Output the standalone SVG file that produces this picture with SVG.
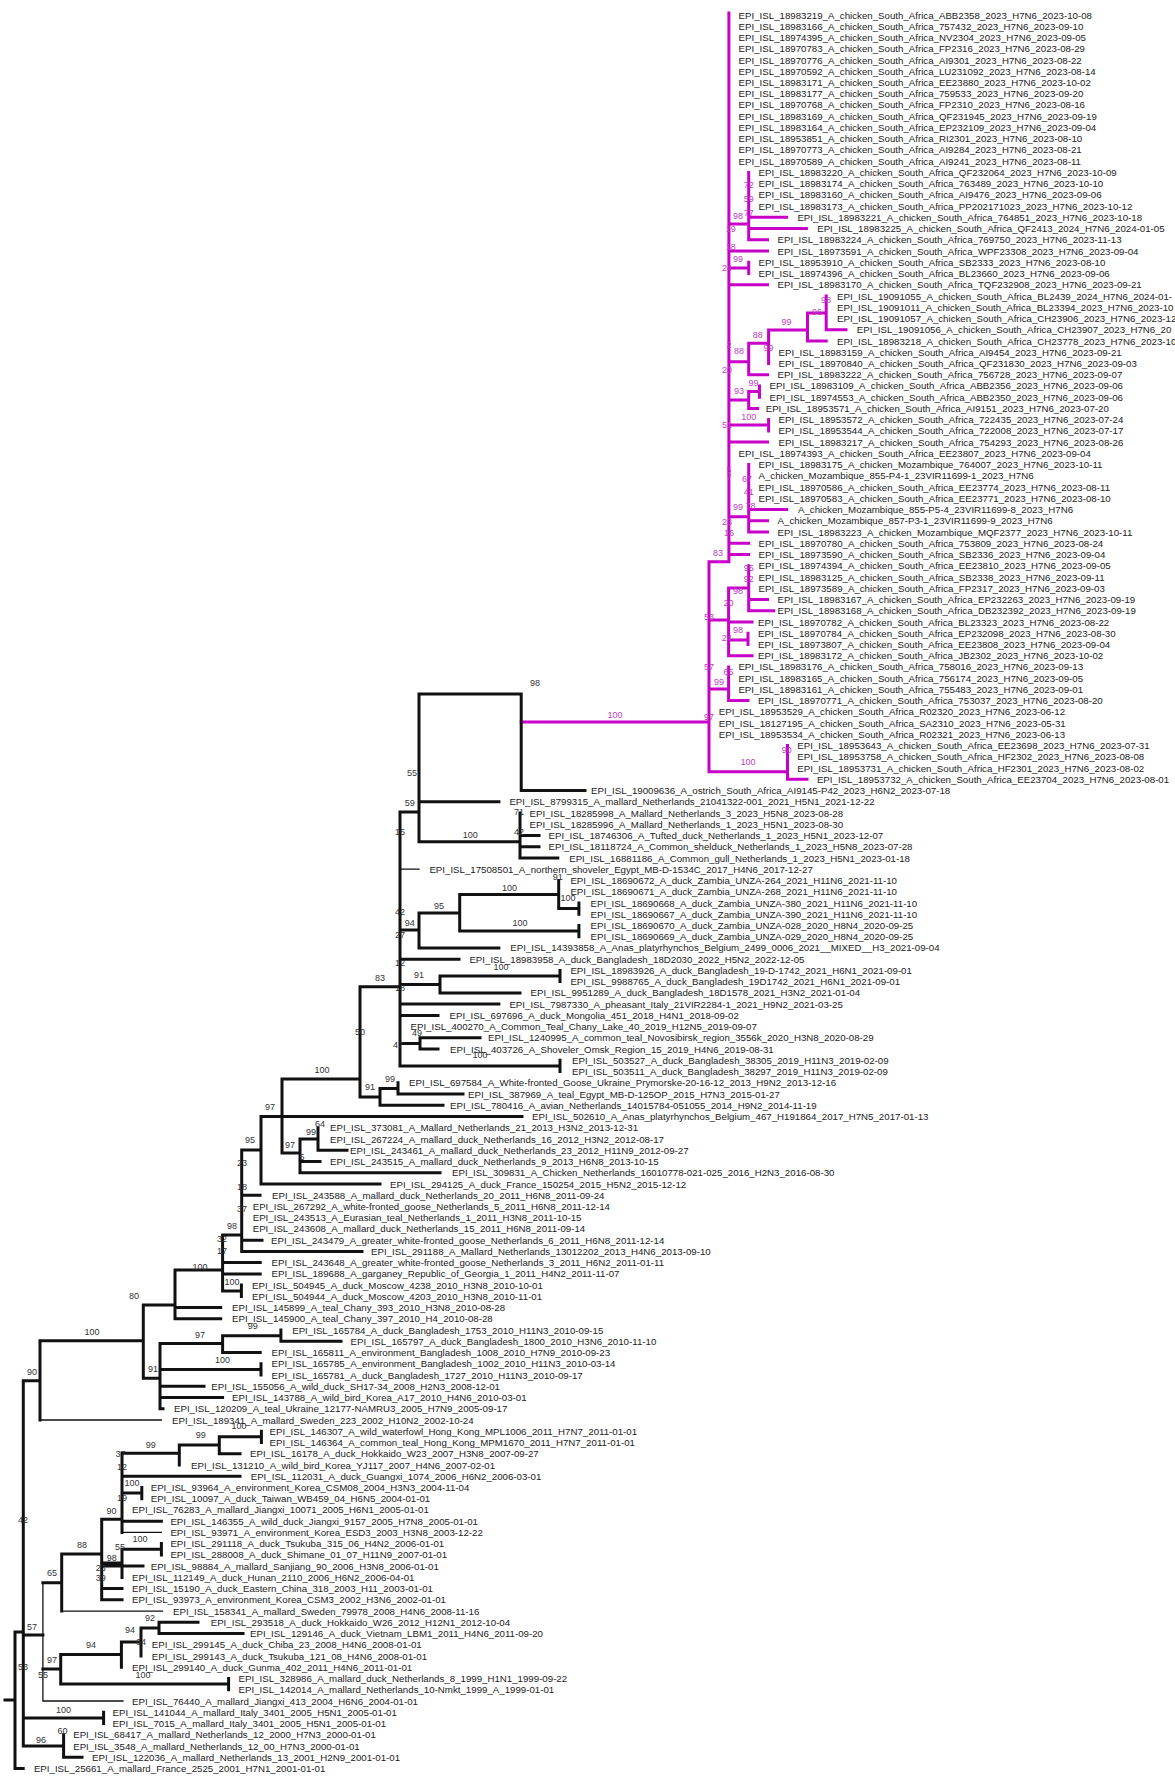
<svg xmlns="http://www.w3.org/2000/svg" width="1175" height="1785" viewBox="0 0 1175 1785">
<style>
.lb{font-family:"Liberation Sans",Arial,sans-serif;font-size:9.7px;fill:#222}
.bs{font-family:"Liberation Sans",Arial,sans-serif;font-size:9px;fill:#333;text-anchor:middle}
.bm{font-family:"Liberation Sans",Arial,sans-serif;font-size:9px;fill:#c040c0;text-anchor:middle}
.mg{stroke:#c800c8;stroke-width:3;fill:none;stroke-linecap:square}
.bk{stroke:#111;stroke-width:3;fill:none;stroke-linecap:square}
.th{stroke:#111;stroke-width:1.3;fill:none;stroke-linecap:square}
</style>
<rect width="1175" height="1785" fill="#fff"/>
<g id="connectors">
<path class="mg" d="M728.9 13V561.7 M728.9 224H748.7 M748.7 172.4V239.8 M748.7 217.3H786.6 M748.7 228.6H806.4 M748.7 239.8H767.5 M728.9 251H767.5 M728.9 268H748.7 M748.7 262.3V273.5 M728.9 284.8H767.5 M826.2 296V329.7 M826.2 329.7H846 M807.5 313V341 M807.5 313H826.2 M807.5 341H826.2 M768.6 330V363.4 M768.6 330H807.5 M748.7 343.3V374.7 M748.7 343.3H768.6 M748.7 374.7H767.5 M728.9 361.7H748.7 M759.5 385.9V397.2 M748.7 391.5H759.5 M748.7 391.5V408.4 M748.7 408.4H757.7 M728.9 400H748.7 M728.9 425H768.6 M768.6 419.6V430.9 M728.9 442.1H767.5 M748.7 464.6V532 M728.9 516.7H748.7 M748.7 509.6H786.6 M748.7 520.8H767.5 M748.7 532H767.5 M728.9 543.3H748.7 M728.9 554.5H748.7 M709 561.7H728.9 M709 561.7V771.7 M728.6 588V655.7 M709 620H728.6 M748.7 565.8V610.7 M728.6 588H748.7 M748.7 599.5H767.5 M748.7 610.7H773.7 M728.6 622H752 M728.6 640H748 M748 633.2V644.4 M728.6 655.7H752 M709 689H728.6 M728.6 666.9V700.6 M728.6 700.6H748 M709 771.7H787.5 M787.5 745.6V779.3 M787.5 779.3H807 M521.2 722H709"/>
<path class="bk" d="M521.2 694V790.6 M521.2 790.6H585 M419 694H521.2 M419 694V841.7 M419 801.8H498.9 M419 841.7H520 M520 813V858 M520 835.5H539 M520 846.8H539 M520 858H557.8 M400 812H419 M400 812V1066 M400 930H419 M419 913V947.9 M419 947.9H498.9 M419 913H459.7 M459.7 894.5V931 M459.7 894.5H558.7 M459.7 931H578.9 M558.7 880.5V908.6 M558.7 908.6H578.9 M578.9 903V914.2 M578.9 925.4V936.7 M400 959.2H459 M400 984.5H440 M440 976V992.9 M440 976H560 M560 970.4V981.6 M440 992.9H520 M400 1004.1H498.9 M400 1015.4H438 M400 1043.5H420 M420 1037.8V1049.1 M420 1037.8H480 M420 1049.1H438 M400 1066H560 M560 1060.3V1071.6 M360 986.7H400 M360 986.7V1097 M360 1097H380 M380 1088.4V1105.3 M380 1088.4H398 M398 1082.8V1094 M398 1094H463 M380 1105.3H443 M282 1079H360 M282 1079V1153 M261 1116.5H522 M282 1153H300 M300 1139V1172.7 M300 1139H318 M300 1161.5H320 M300 1172.7H440 M318 1127.8V1150.2 M318 1150.2H347 M261 1116.5V1184 M261 1184H380 M241.7 1150H261 M241.7 1150V1251.4 M241.7 1195.2H260 M241.7 1240.2H262 M241.7 1251.4H362 M222.6 1235H241.7 M222.6 1235V1291 M222.6 1262.6H260.2 M222.6 1273.9H260.2 M222.6 1291H241.4 M241.4 1285.1V1296.4 M175 1270H222.6 M175 1270V1318.8 M175 1307.6H220.7 M175 1318.8H220.7 M143.3 1305H175 M143.3 1305V1378.3 M143.3 1378.3H160 M160 1343.5V1408.8 M160 1343.5H222.6 M222.6 1335.7V1352.6 M222.6 1335.7H280.9 M280.9 1330.1V1341.3 M280.9 1341.3H341 M222.6 1352.6H260.2 M160 1369.4H261 M261 1363.8V1375 M160 1386.3H204 M160 1397.5H222.6 M160 1408.8H163 M40 1340.7H143.3 M40 1340.7V1420 M23.3 1380.7H40 M23.3 1380.7V1746 M23.3 1635H42.9 M42.9 1582.7H61.7 M61.7 1554V1611.1 M61.7 1554H101.7 M101.7 1519.3V1599.8 M101.7 1519.3H122 M122 1453.3V1532.4 M122 1453.3H179.3 M179.3 1445V1465 M179.3 1445H219.3 M219.3 1436.7V1453.7 M219.3 1436.7H261.4 M261.4 1431.2V1442.5 M219.3 1453.7H240 M122 1476.2H240 M122 1493H141.8 M141.8 1487.4V1498.7 M122 1521.2H161.4 M101.7 1563H122 M122 1549.3V1577.4 M122 1549.3H161.4 M161.4 1543.6V1554.9 M101.7 1566.1H143 M101.7 1588.6H122 M101.7 1599.8H122 M42.9 1669H60.7 M60.7 1654.6V1684 M60.7 1654.6H121.4 M121.4 1642V1667.3 M121.4 1642H141 M141 1628V1656 M141 1628H159 M159 1622.3V1633.6 M159 1622.3H198 M159 1633.6H243 M60.7 1684H228.6 M228.6 1678.5V1689.8 M23.3 1718H103.6 M103.6 1712.2V1723.5 M23.3 1746H63.6 M63.6 1734.7V1757.2 M63.6 1757.2H82 M15 1632V1768.4 M15 1632H23.3 M15 1768.4H23.2 M5 1700H15"/>
<path class="th" d="M400 869.2H419 M40 1420H161.4 M61.7 1611.1H162.5 M42.9 1582.7V1701 M42.9 1701H123 M122 1532.4H161.4"/>
</g>
<g id="bootstrap-magenta">
<text class="bm" x="748.7" y="188">72</text><text class="bm" x="748.7" y="202">59</text><text class="bm" x="738" y="218.7">98</text><text class="bm" x="748.7" y="216">77</text><text class="bm" x="730.7" y="232">19</text><text class="bm" x="730.7" y="249.7">18</text><text class="bm" x="738" y="262">99</text><text class="bm" x="727" y="271">24</text><text class="bm" x="826" y="303">98</text><text class="bm" x="817" y="314.7">96</text><text class="bm" x="786.6" y="324.7">99</text><text class="bm" x="757.7" y="338">88</text><text class="bm" x="729" y="348">2</text><text class="bm" x="768.6" y="351">99</text><text class="bm" x="739" y="354">88</text><text class="bm" x="727" y="373">20</text><text class="bm" x="753.4" y="385.7">99</text><text class="bm" x="739" y="393.7">93</text><text class="bm" x="748.7" y="419.7">100</text><text class="bm" x="727" y="428">51</text><text class="bm" x="729" y="473">5</text><text class="bm" x="729" y="480">7</text><text class="bm" x="747" y="482">67</text><text class="bm" x="748.7" y="494.7">41</text><text class="bm" x="738" y="510">99</text><text class="bm" x="750.5" y="508.7">78</text><text class="bm" x="727" y="524.7">23</text><text class="bm" x="729" y="535.7">16</text><text class="bm" x="718" y="556">83</text><text class="bm" x="748.7" y="571">95</text><text class="bm" x="748.7" y="582">92</text><text class="bm" x="738" y="593.7">98</text><text class="bm" x="728.6" y="606">20</text><text class="bm" x="709" y="620">53</text><text class="bm" x="738" y="633">98</text><text class="bm" x="726.7" y="641">24</text><text class="bm" x="709" y="670">57</text><text class="bm" x="728.6" y="675">65</text><text class="bm" x="719" y="685">99</text><text class="bm" x="709" y="720">97</text><text class="bm" x="615" y="718">100</text><text class="bm" x="786.7" y="753">90</text><text class="bm" x="748" y="765">100</text>
</g>
<g id="bootstrap-black">
<text class="bs" x="535" y="686">98</text><text class="bs" x="412" y="776">55</text><text class="bs" x="409.7" y="806">59</text><text class="bs" x="400" y="834.7">15</text><text class="bs" x="470.3" y="838">100</text><text class="bs" x="519" y="814.7">71</text><text class="bs" x="519" y="834.7">42</text><text class="bs" x="509.4" y="891">100</text><text class="bs" x="557.8" y="879.7">91</text><text class="bs" x="568" y="901">100</text><text class="bs" x="520" y="925.7">100</text><text class="bs" x="439" y="909">95</text><text class="bs" x="400" y="914.7">42</text><text class="bs" x="409.7" y="926.3">94</text><text class="bs" x="400" y="938">27</text><text class="bs" x="400" y="966">12</text><text class="bs" x="501" y="969.7">100</text><text class="bs" x="380" y="981">83</text><text class="bs" x="419" y="978">91</text><text class="bs" x="400" y="991">18</text><text class="bs" x="360" y="1035">50</text><text class="bs" x="417" y="1036">49</text><text class="bs" x="398" y="1048">47</text><text class="bs" x="480" y="1058">100</text><text class="bs" x="322" y="1073">100</text><text class="bs" x="370" y="1090">91</text><text class="bs" x="390" y="1082">99</text><text class="bs" x="270" y="1110">97</text><text class="bs" x="320" y="1127">64</text><text class="bs" x="311" y="1135">99</text><text class="bs" x="250" y="1143">95</text><text class="bs" x="290" y="1148">97</text><text class="bs" x="302" y="1160">5</text><text class="bs" x="242" y="1166">23</text><text class="bs" x="242" y="1190">18</text><text class="bs" x="242" y="1212">37</text><text class="bs" x="232" y="1229">98</text><text class="bs" x="222" y="1242">32</text><text class="bs" x="222" y="1254">17</text><text class="bs" x="200" y="1269.7">100</text><text class="bs" x="232" y="1284.7">100</text><text class="bs" x="134" y="1299">80</text><text class="bs" x="200" y="1338">97</text><text class="bs" x="252.7" y="1329">99</text><text class="bs" x="222.6" y="1363">100</text><text class="bs" x="153" y="1372">91</text><text class="bs" x="92" y="1335">100</text><text class="bs" x="32" y="1375">90</text><text class="bs" x="239" y="1428.7">100</text><text class="bs" x="200.7" y="1438">99</text><text class="bs" x="150.7" y="1448">99</text><text class="bs" x="120.4" y="1457">37</text><text class="bs" x="122" y="1469.7">12</text><text class="bs" x="132" y="1486">100</text><text class="bs" x="122" y="1501">19</text><text class="bs" x="111.4" y="1514">90</text><text class="bs" x="140" y="1542">100</text><text class="bs" x="120" y="1549.7">55</text><text class="bs" x="111.7" y="1561.3">98</text><text class="bs" x="100.7" y="1571">23</text><text class="bs" x="100.7" y="1581">39</text><text class="bs" x="23" y="1523">42</text><text class="bs" x="82" y="1548">88</text><text class="bs" x="52" y="1576">65</text><text class="bs" x="32" y="1630">57</text><text class="bs" x="150" y="1621">92</text><text class="bs" x="130" y="1633">94</text><text class="bs" x="141" y="1644.7">64</text><text class="bs" x="91" y="1648">94</text><text class="bs" x="52" y="1663">97</text><text class="bs" x="23" y="1670">53</text><text class="bs" x="43" y="1678">55</text><text class="bs" x="143" y="1678">100</text><text class="bs" x="63.6" y="1713">100</text><text class="bs" x="62.5" y="1734">60</text><text class="bs" x="41" y="1743">96</text>
</g>
<g id="leaves">
<g id="n1"><text class="lb" x="738.6" y="18.5">EPI_ISL_18983219_A_chicken_South_Africa_ABB2358_2023_H7N6_2023-10-08</text></g>
<g id="n2"><text class="lb" x="738.6" y="29.7">EPI_ISL_18983166_A_chicken_South_Africa_757432_2023_H7N6_2023-09-10</text></g>
<g id="n3"><text class="lb" x="738.6" y="41">EPI_ISL_18974395_A_chicken_South_Africa_NV2304_2023_H7N6_2023-09-05</text></g>
<g id="n4"><text class="lb" x="738.6" y="52.2">EPI_ISL_18970783_A_chicken_South_Africa_FP2316_2023_H7N6_2023-08-29</text></g>
<g id="n5"><text class="lb" x="738.6" y="63.5">EPI_ISL_18970776_A_chicken_South_Africa_AI9301_2023_H7N6_2023-08-22</text></g>
<g id="n6"><text class="lb" x="738.6" y="74.7">EPI_ISL_18970592_A_chicken_South_Africa_LU231092_2023_H7N6_2023-08-14</text></g>
<g id="n7"><text class="lb" x="738.6" y="85.9">EPI_ISL_18983171_A_chicken_South_Africa_EE23880_2023_H7N6_2023-10-02</text></g>
<g id="n8"><text class="lb" x="738.6" y="97.2">EPI_ISL_18983177_A_chicken_South_Africa_759533_2023_H7N6_2023-09-20</text></g>
<g id="n9"><text class="lb" x="738.6" y="108.4">EPI_ISL_18970768_A_chicken_South_Africa_FP2310_2023_H7N6_2023-08-16</text></g>
<g id="n10"><text class="lb" x="738.6" y="119.7">EPI_ISL_18983169_A_chicken_South_Africa_QF231945_2023_H7N6_2023-09-19</text></g>
<g id="n11"><text class="lb" x="738.6" y="130.9">EPI_ISL_18983164_A_chicken_South_Africa_EP232109_2023_H7N6_2023-09-04</text></g>
<g id="n12"><text class="lb" x="738.6" y="142.1">EPI_ISL_18953851_A_chicken_South_Africa_RI2301_2023_H7N6_2023-08-10</text></g>
<g id="n13"><text class="lb" x="738.6" y="153.4">EPI_ISL_18970773_A_chicken_South_Africa_AI9284_2023_H7N6_2023-08-21</text></g>
<g id="n14"><text class="lb" x="738.6" y="164.6">EPI_ISL_18970589_A_chicken_South_Africa_AI9241_2023_H7N6_2023-08-11</text></g>
<g id="n15"><text class="lb" x="758.5" y="175.9">EPI_ISL_18983220_A_chicken_South_Africa_QF232064_2023_H7N6_2023-10-09</text></g>
<g id="n16"><text class="lb" x="758.5" y="187.1">EPI_ISL_18983174_A_chicken_South_Africa_763489_2023_H7N6_2023-10-10</text></g>
<g id="n17"><text class="lb" x="758.5" y="198.3">EPI_ISL_18983160_A_chicken_South_Africa_AI9476_2023_H7N6_2023-09-06</text></g>
<g id="n18"><text class="lb" x="758.5" y="209.6">EPI_ISL_18983173_A_chicken_South_Africa_PP202171023_2023_H7N6_2023-10-12</text></g>
<g id="n19"><text class="lb" x="797.4" y="220.8">EPI_ISL_18983221_A_chicken_South_Africa_764851_2023_H7N6_2023-10-18</text></g>
<g id="n20"><text class="lb" x="817.2" y="232.1">EPI_ISL_18983225_A_chicken_South_Africa_QF2413_2024_H7N6_2024-01-05</text></g>
<g id="n21"><text class="lb" x="777.6" y="243.3">EPI_ISL_18983224_A_chicken_South_Africa_769750_2023_H7N6_2023-11-13</text></g>
<g id="n22"><text class="lb" x="777.6" y="254.5">EPI_ISL_18973591_A_chicken_South_Africa_WPF23308_2023_H7N6_2023-09-04</text></g>
<g id="n23"><text class="lb" x="758.5" y="265.8">EPI_ISL_18953910_A_chicken_South_Africa_SB2333_2023_H7N6_2023-08-10</text></g>
<g id="n24"><text class="lb" x="758.5" y="277">EPI_ISL_18974396_A_chicken_South_Africa_BL23660_2023_H7N6_2023-09-06</text></g>
<g id="n25"><text class="lb" x="777.6" y="288.3">EPI_ISL_18983170_A_chicken_South_Africa_TQF232908_2023_H7N6_2023-09-21</text></g>
<g id="n26"><text class="lb" x="837" y="299.5">EPI_ISL_19091055_A_chicken_South_Africa_BL2439_2024_H7N6_2024-01-</text></g>
<g id="n27"><text class="lb" x="837" y="310.7">EPI_ISL_19091011_A_chicken_South_Africa_BL23394_2023_H7N6_2023-10</text></g>
<g id="n28"><text class="lb" x="837" y="322">EPI_ISL_19091057_A_chicken_South_Africa_CH23906_2023_H7N6_2023-12</text></g>
<g id="n29"><text class="lb" x="856.8" y="333.2">EPI_ISL_19091056_A_chicken_South_Africa_CH23907_2023_H7N6_20</text></g>
<g id="n30"><text class="lb" x="837" y="344.5">EPI_ISL_18983218_A_chicken_South_Africa_CH23778_2023_H7N6_2023-10</text></g>
<g id="n31"><text class="lb" x="778.6" y="355.7">EPI_ISL_18983159_A_chicken_South_Africa_AI9454_2023_H7N6_2023-09-21</text></g>
<g id="n32"><text class="lb" x="778.6" y="366.9">EPI_ISL_18970840_A_chicken_South_Africa_QF231830_2023_H7N6_2023-09-03</text></g>
<g id="n33"><text class="lb" x="777.6" y="378.2">EPI_ISL_18983222_A_chicken_South_Africa_756728_2023_H7N6_2023-09-07</text></g>
<g id="n34"><text class="lb" x="769.6" y="389.4">EPI_ISL_18983109_A_chicken_South_Africa_ABB2356_2023_H7N6_2023-09-06</text></g>
<g id="n35"><text class="lb" x="769.6" y="400.7">EPI_ISL_18974553_A_chicken_South_Africa_ABB2350_2023_H7N6_2023-09-06</text></g>
<g id="n36"><text class="lb" x="765.7" y="411.9">EPI_ISL_18953571_A_chicken_South_Africa_AI9151_2023_H7N6_2023-07-20</text></g>
<g id="n37"><text class="lb" x="778.6" y="423.1">EPI_ISL_18953572_A_chicken_South_Africa_722435_2023_H7N6_2023-07-24</text></g>
<g id="n38"><text class="lb" x="778.6" y="434.4">EPI_ISL_18953544_A_chicken_South_Africa_722008_2023_H7N6_2023-07-17</text></g>
<g id="n39"><text class="lb" x="778.6" y="445.6">EPI_ISL_18983217_A_chicken_South_Africa_754293_2023_H7N6_2023-08-26</text></g>
<g id="n40"><text class="lb" x="738.6" y="456.9">EPI_ISL_18974393_A_chicken_South_Africa_EE23807_2023_H7N6_2023-09-04</text></g>
<g id="n41"><text class="lb" x="758.5" y="468.1">EPI_ISL_18983175_A_chicken_Mozambique_764007_2023_H7N6_2023-10-11</text></g>
<g id="n42"><text class="lb" x="758.5" y="479.3">A_chicken_Mozambique_855-P4-1_23VIR11699-1_2023_H7N6</text></g>
<g id="n43"><text class="lb" x="758.5" y="490.6">EPI_ISL_18970586_A_chicken_South_Africa_EE23774_2023_H7N6_2023-08-11</text></g>
<g id="n44"><text class="lb" x="758.5" y="501.8">EPI_ISL_18970583_A_chicken_South_Africa_EE23771_2023_H7N6_2023-08-10</text></g>
<g id="n45"><text class="lb" x="798" y="513.1">A_chicken_Mozambique_855-P5-4_23VIR11699-8_2023_H7N6</text></g>
<g id="n46"><text class="lb" x="777.6" y="524.3">A_chicken_Mozambique_857-P3-1_23VIR11699-9_2023_H7N6</text></g>
<g id="n47"><text class="lb" x="777.6" y="535.5">EPI_ISL_18983223_A_chicken_Mozambique_MQF2377_2023_H7N6_2023-10-11</text></g>
<g id="n48"><text class="lb" x="758.5" y="546.8">EPI_ISL_18970780_A_chicken_South_Africa_753809_2023_H7N6_2023-08-24</text></g>
<g id="n49"><text class="lb" x="758.5" y="558">EPI_ISL_18973590_A_chicken_South_Africa_SB2336_2023_H7N6_2023-09-04</text></g>
<g id="n50"><text class="lb" x="758.5" y="569.3">EPI_ISL_18974394_A_chicken_South_Africa_EE23810_2023_H7N6_2023-09-05</text></g>
<g id="n51"><text class="lb" x="758.5" y="580.5">EPI_ISL_18983125_A_chicken_South_Africa_SB2338_2023_H7N6_2023-09-11</text></g>
<g id="n52"><text class="lb" x="758.5" y="591.7">EPI_ISL_18973589_A_chicken_South_Africa_FP2317_2023_H7N6_2023-09-03</text></g>
<g id="n53"><text class="lb" x="777.6" y="603">EPI_ISL_18983167_A_chicken_South_Africa_EP232263_2023_H7N6_2023-09-19</text></g>
<g id="n54"><text class="lb" x="777.6" y="614.2">EPI_ISL_18983168_A_chicken_South_Africa_DB232392_2023_H7N6_2023-09-19</text></g>
<g id="n55"><text class="lb" x="758" y="625.5">EPI_ISL_18970782_A_chicken_South_Africa_BL23323_2023_H7N6_2023-08-22</text></g>
<g id="n56"><text class="lb" x="758" y="636.7">EPI_ISL_18970784_A_chicken_South_Africa_EP232098_2023_H7N6_2023-08-30</text></g>
<g id="n57"><text class="lb" x="758" y="647.9">EPI_ISL_18973807_A_chicken_South_Africa_EE23808_2023_H7N6_2023-09-04</text></g>
<g id="n58"><text class="lb" x="758" y="659.2">EPI_ISL_18983172_A_chicken_South_Africa_JB2302_2023_H7N6_2023-10-02</text></g>
<g id="n59"><text class="lb" x="738.4" y="670.4">EPI_ISL_18983176_A_chicken_South_Africa_758016_2023_H7N6_2023-09-13</text></g>
<g id="n60"><text class="lb" x="738.4" y="681.7">EPI_ISL_18983165_A_chicken_South_Africa_756174_2023_H7N6_2023-09-05</text></g>
<g id="n61"><text class="lb" x="738.4" y="692.9">EPI_ISL_18983161_A_chicken_South_Africa_755483_2023_H7N6_2023-09-01</text></g>
<g id="n62"><text class="lb" x="758" y="704.1">EPI_ISL_18970771_A_chicken_South_Africa_753037_2023_H7N6_2023-08-20</text></g>
<g id="n63"><text class="lb" x="718.8" y="715.4">EPI_ISL_18953529_A_chicken_South_Africa_R02320_2023_H7N6_2023-06-12</text></g>
<g id="n64"><text class="lb" x="718.8" y="726.6">EPI_ISL_18127195_A_chicken_South_Africa_SA2310_2023_H7N6_2023-05-31</text></g>
<g id="n65"><text class="lb" x="718.8" y="737.9">EPI_ISL_18953534_A_chicken_South_Africa_R02321_2023_H7N6_2023-06-13</text></g>
<g id="n66"><text class="lb" x="797.3" y="749.1">EPI_ISL_18953643_A_chicken_South_Africa_EE23698_2023_H7N6_2023-07-31</text></g>
<g id="n67"><text class="lb" x="797.3" y="760.3">EPI_ISL_18953758_A_chicken_South_Africa_HF2302_2023_H7N6_2023-08-08</text></g>
<g id="n68"><text class="lb" x="797.3" y="771.6">EPI_ISL_18953731_A_chicken_South_Africa_HF2301_2023_H7N6_2023-08-02</text></g>
<g id="n69"><text class="lb" x="816.9" y="782.8">EPI_ISL_18953732_A_chicken_South_Africa_EE23704_2023_H7N6_2023-08-01</text></g>
<g id="n70"><text class="lb" x="591" y="794.1">EPI_ISL_19009636_A_ostrich_South_Africa_AI9145-P42_2023_H6N2_2023-07-18</text></g>
<g id="n71"><text class="lb" x="509.4" y="805.3">EPI_ISL_8799315_A_mallard_Netherlands_21041322-001_2021_H5N1_2021-12-22</text></g>
<g id="n72"><text class="lb" x="529.6" y="816.5">EPI_ISL_18285998_A_Mallard_Netherlands_3_2023_H5N8_2023-08-28</text></g>
<g id="n73"><text class="lb" x="529.6" y="827.8">EPI_ISL_18285996_A_Mallard_Netherlands_1_2023_H5N1_2023-08-30</text></g>
<g id="n74"><text class="lb" x="548.5" y="839">EPI_ISL_18746306_A_Tufted_duck_Netherlands_1_2023_H5N1_2023-12-07</text></g>
<g id="n75"><text class="lb" x="548.5" y="850.3">EPI_ISL_18118724_A_Common_shelduck_Netherlands_1_2023_H5N8_2023-07-28</text></g>
<g id="n76"><text class="lb" x="569.2" y="861.5">EPI_ISL_16881186_A_Common_gull_Netherlands_1_2023_H5N1_2023-01-18</text></g>
<g id="n77"><text class="lb" x="429.4" y="872.7">EPI_ISL_17508501_A_northern_shoveler_Egypt_MB-D-1534C_2017_H4N6_2017-12-27</text></g>
<g id="n78"><text class="lb" x="570.4" y="884">EPI_ISL_18690672_A_duck_Zambia_UNZA-264_2021_H11N6_2021-11-10</text></g>
<g id="n79"><text class="lb" x="570.4" y="895.2">EPI_ISL_18690671_A_duck_Zambia_UNZA-268_2021_H11N6_2021-11-10</text></g>
<g id="n80"><text class="lb" x="590.6" y="906.5">EPI_ISL_18690668_A_duck_Zambia_UNZA-380_2021_H11N6_2021-11-10</text></g>
<g id="n81"><text class="lb" x="590.6" y="917.7">EPI_ISL_18690667_A_duck_Zambia_UNZA-390_2021_H11N6_2021-11-10</text></g>
<g id="n82"><text class="lb" x="590.6" y="928.9">EPI_ISL_18690670_A_duck_Zambia_UNZA-028_2020_H8N4_2020-09-25</text></g>
<g id="n83"><text class="lb" x="590.6" y="940.2">EPI_ISL_18690669_A_duck_Zambia_UNZA-029_2020_H8N4_2020-09-25</text></g>
<g id="n84"><text class="lb" x="510.3" y="951.4">EPI_ISL_14393858_A_Anas_platyrhynchos_Belgium_2499_0006_2021__MIXED__H3_2021-09-04</text></g>
<g id="n85"><text class="lb" x="469.4" y="962.7">EPI_ISL_18983958_A_duck_Bangladesh_18D2030_2022_H5N2_2022-12-05</text></g>
<g id="n86"><text class="lb" x="570.4" y="973.9">EPI_ISL_18983926_A_duck_Bangladesh_19-D-1742_2021_H6N1_2021-09-01</text></g>
<g id="n87"><text class="lb" x="570.4" y="985.1">EPI_ISL_9988765_A_duck_Bangladesh_19D1742_2021_H6N1_2021-09-01</text></g>
<g id="n88"><text class="lb" x="530.5" y="996.4">EPI_ISL_9951289_A_duck_Bangladesh_18D1578_2021_H3N2_2021-01-04</text></g>
<g id="n89"><text class="lb" x="509.4" y="1007.6">EPI_ISL_7987330_A_pheasant_Italy_21VIR2284-1_2021_H9N2_2021-03-25</text></g>
<g id="n90"><text class="lb" x="449.6" y="1018.9">EPI_ISL_697696_A_duck_Mongolia_451_2018_H4N1_2018-09-02</text></g>
<g id="n91"><text class="lb" x="410.5" y="1030.1">EPI_ISL_400270_A_Common_Teal_Chany_Lake_40_2019_H12N5_2019-09-07</text></g>
<g id="n92"><text class="lb" x="488" y="1041.3">EPI_ISL_1240995_A_common_teal_Novosibirsk_region_3556k_2020_H3N8_2020-08-29</text></g>
<g id="n93"><text class="lb" x="450" y="1052.6">EPI_ISL_403726_A_Shoveler_Omsk_Region_15_2019_H4N6_2019-08-31</text></g>
<g id="n94"><text class="lb" x="572" y="1063.8">EPI_ISL_503527_A_duck_Bangladesh_38305_2019_H11N3_2019-02-09</text></g>
<g id="n95"><text class="lb" x="572" y="1075.1">EPI_ISL_503511_A_duck_Bangladesh_38297_2019_H11N3_2019-02-09</text></g>
<g id="n96"><text class="lb" x="409" y="1086.3">EPI_ISL_697584_A_White-fronted_Goose_Ukraine_Prymorske-20-16-12_2013_H9N2_2013-12-16</text></g>
<g id="n97"><text class="lb" x="468" y="1097.5">EPI_ISL_387969_A_teal_Egypt_MB-D-125OP_2015_H7N3_2015-01-27</text></g>
<g id="n98"><text class="lb" x="450" y="1108.8">EPI_ISL_780416_A_avian_Netherlands_14015784-051055_2014_H9N2_2014-11-19</text></g>
<g id="n99"><text class="lb" x="532" y="1120">EPI_ISL_502610_A_Anas_platyrhynchos_Belgium_467_H191864_2017_H7N5_2017-01-13</text></g>
<g id="n100"><text class="lb" x="330" y="1131.3">EPI_ISL_373081_A_Mallard_Netherlands_21_2013_H3N2_2013-12-31</text></g>
<g id="n101"><text class="lb" x="330" y="1142.5">EPI_ISL_267224_A_mallard_duck_Netherlands_16_2012_H3N2_2012-08-17</text></g>
<g id="n102"><text class="lb" x="350" y="1153.7">EPI_ISL_243461_A_mallard_duck_Netherlands_23_2012_H11N9_2012-09-27</text></g>
<g id="n103"><text class="lb" x="330" y="1165">EPI_ISL_243515_A_mallard_duck_Netherlands_9_2013_H6N8_2013-10-15</text></g>
<g id="n104"><text class="lb" x="452" y="1176.2">EPI_ISL_309831_A_Chicken_Netherlands_16010778-021-025_2016_H2N3_2016-08-30</text></g>
<g id="n105"><text class="lb" x="390" y="1187.5">EPI_ISL_294125_A_duck_France_150254_2015_H5N2_2015-12-12</text></g>
<g id="n106"><text class="lb" x="272" y="1198.7">EPI_ISL_243588_A_mallard_duck_Netherlands_20_2011_H6N8_2011-09-24</text></g>
<g id="n107"><text class="lb" x="252.7" y="1209.9">EPI_ISL_267292_A_white-fronted_goose_Netherlands_5_2011_H6N8_2011-12-14</text></g>
<g id="n108"><text class="lb" x="252.7" y="1221.2">EPI_ISL_243513_A_Eurasian_teal_Netherlands_1_2011_H3N8_2011-10-15</text></g>
<g id="n109"><text class="lb" x="252.7" y="1232.4">EPI_ISL_243608_A_mallard_duck_Netherlands_15_2011_H6N8_2011-09-14</text></g>
<g id="n110"><text class="lb" x="271" y="1243.7">EPI_ISL_243479_A_greater_white-fronted_goose_Netherlands_6_2011_H6N8_2011-12-14</text></g>
<g id="n111"><text class="lb" x="371" y="1254.9">EPI_ISL_291188_A_Mallard_Netherlands_13012202_2013_H4N6_2013-09-10</text></g>
<g id="n112"><text class="lb" x="271.5" y="1266.1">EPI_ISL_243648_A_greater_white-fronted_goose_Netherlands_3_2011_H6N2_2011-01-11</text></g>
<g id="n113"><text class="lb" x="271.5" y="1277.4">EPI_ISL_189688_A_garganey_Republic_of_Georgia_1_2011_H4N2_2011-11-07</text></g>
<g id="n114"><text class="lb" x="252" y="1288.6">EPI_ISL_504945_A_duck_Moscow_4238_2010_H3N8_2010-10-01</text></g>
<g id="n115"><text class="lb" x="252" y="1299.9">EPI_ISL_504944_A_duck_Moscow_4203_2010_H3N8_2010-11-01</text></g>
<g id="n116"><text class="lb" x="232" y="1311.1">EPI_ISL_145899_A_teal_Chany_393_2010_H3N8_2010-08-28</text></g>
<g id="n117"><text class="lb" x="232" y="1322.3">EPI_ISL_145900_A_teal_Chany_397_2010_H4_2010-08-28</text></g>
<g id="n118"><text class="lb" x="292.2" y="1333.6">EPI_ISL_165784_A_duck_Bangladesh_1753_2010_H11N3_2010-09-15</text></g>
<g id="n119"><text class="lb" x="350.5" y="1344.8">EPI_ISL_165797_A_duck_Bangladesh_1800_2010_H3N6_2010-11-10</text></g>
<g id="n120"><text class="lb" x="271.5" y="1356.1">EPI_ISL_165811_A_environment_Bangladesh_1008_2010_H7N9_2010-09-23</text></g>
<g id="n121"><text class="lb" x="271.5" y="1367.3">EPI_ISL_165785_A_environment_Bangladesh_1002_2010_H11N3_2010-03-14</text></g>
<g id="n122"><text class="lb" x="271.5" y="1378.5">EPI_ISL_165781_A_duck_Bangladesh_1727_2010_H11N3_2010-09-17</text></g>
<g id="n123"><text class="lb" x="211.3" y="1389.8">EPI_ISL_155056_A_wild_duck_SH17-34_2008_H2N3_2008-12-01</text></g>
<g id="n124"><text class="lb" x="232" y="1401">EPI_ISL_143788_A_wild_bird_Korea_A17_2010_H4N6_2010-03-01</text></g>
<g id="n125"><text class="lb" x="174" y="1412.3">EPI_ISL_120209_A_teal_Ukraine_12177-NAMRU3_2005_H7N9_2005-09-17</text></g>
<g id="n126"><text class="lb" x="172" y="1423.5">EPI_ISL_189341_A_mallard_Sweden_223_2002_H10N2_2002-10-24</text></g>
<g id="n127"><text class="lb" x="269.6" y="1434.7">EPI_ISL_146307_A_wild_waterfowl_Hong_Kong_MPL1006_2011_H7N7_2011-01-01</text></g>
<g id="n128"><text class="lb" x="269.6" y="1446">EPI_ISL_146364_A_common_teal_Hong_Kong_MPM1670_2011_H7N7_2011-01-01</text></g>
<g id="n129"><text class="lb" x="250" y="1457.2">EPI_ISL_16178_A_duck_Hokkaido_W23_2007_H3N8_2007-09-27</text></g>
<g id="n130"><text class="lb" x="191" y="1468.5">EPI_ISL_131210_A_wild_bird_Korea_YJ117_2007_H4N6_2007-02-01</text></g>
<g id="n131"><text class="lb" x="250.7" y="1479.7">EPI_ISL_112031_A_duck_Guangxi_1074_2006_H6N2_2006-03-01</text></g>
<g id="n132"><text class="lb" x="150.7" y="1490.9">EPI_ISL_93964_A_environment_Korea_CSM08_2004_H3N3_2004-11-04</text></g>
<g id="n133"><text class="lb" x="150.7" y="1502.2">EPI_ISL_10097_A_duck_Taiwan_WB459_04_H6N5_2004-01-01</text></g>
<g id="n134"><text class="lb" x="132" y="1513.4">EPI_ISL_76283_A_mallard_Jiangxi_10071_2005_H6N1_2005-01-01</text></g>
<g id="n135"><text class="lb" x="170.4" y="1524.7">EPI_ISL_146355_A_wild_duck_Jiangxi_9157_2005_H7N8_2005-01-01</text></g>
<g id="n136"><text class="lb" x="170.4" y="1535.9">EPI_ISL_93971_A_environment_Korea_ESD3_2003_H3N8_2003-12-22</text></g>
<g id="n137"><text class="lb" x="170.4" y="1547.1">EPI_ISL_291118_A_duck_Tsukuba_315_06_H4N2_2006-01-01</text></g>
<g id="n138"><text class="lb" x="170.4" y="1558.4">EPI_ISL_288008_A_duck_Shimane_01_07_H11N9_2007-01-01</text></g>
<g id="n139"><text class="lb" x="150.7" y="1569.6">EPI_ISL_98884_A_mallard_Sanjiang_90_2006_H3N8_2006-01-01</text></g>
<g id="n140"><text class="lb" x="132" y="1580.9">EPI_ISL_112149_A_duck_Hunan_2110_2006_H6N2_2006-04-01</text></g>
<g id="n141"><text class="lb" x="132" y="1592.1">EPI_ISL_15190_A_duck_Eastern_China_318_2003_H11_2003-01-01</text></g>
<g id="n142"><text class="lb" x="132" y="1603.3">EPI_ISL_93973_A_environment_Korea_CSM3_2002_H3N6_2002-01-01</text></g>
<g id="n143"><text class="lb" x="173" y="1614.6">EPI_ISL_158341_A_mallard_Sweden_79978_2008_H4N6_2008-11-16</text></g>
<g id="n144"><text class="lb" x="210.7" y="1625.8">EPI_ISL_293518_A_duck_Hokkaido_W26_2012_H12N1_2012-10-04</text></g>
<g id="n145"><text class="lb" x="250" y="1637.1">EPI_ISL_129146_A_duck_Vietnam_LBM1_2011_H4N6_2011-09-20</text></g>
<g id="n146"><text class="lb" x="151.8" y="1648.3">EPI_ISL_299145_A_duck_Chiba_23_2008_H4N6_2008-01-01</text></g>
<g id="n147"><text class="lb" x="151.8" y="1659.5">EPI_ISL_299143_A_duck_Tsukuba_121_08_H4N6_2008-01-01</text></g>
<g id="n148"><text class="lb" x="132" y="1670.8">EPI_ISL_299140_A_duck_Gunma_402_2011_H4N6_2011-01-01</text></g>
<g id="n149"><text class="lb" x="238.6" y="1682">EPI_ISL_328986_A_mallard_duck_Netherlands_8_1999_H1N1_1999-09-22</text></g>
<g id="n150"><text class="lb" x="238.6" y="1693.3">EPI_ISL_142014_A_mallard_Netherlands_10-Nmkt_1999_A_1999-01-01</text></g>
<g id="n151"><text class="lb" x="132" y="1704.5">EPI_ISL_76440_A_mallard_Jiangxi_413_2004_H6N6_2004-01-01</text></g>
<g id="n152"><text class="lb" x="112.5" y="1715.7">EPI_ISL_141044_A_mallard_Italy_3401_2005_H5N1_2005-01-01</text></g>
<g id="n153"><text class="lb" x="112.5" y="1727">EPI_ISL_7015_A_mallard_Italy_3401_2005_H5N1_2005-01-01</text></g>
<g id="n154"><text class="lb" x="73.2" y="1738.2">EPI_ISL_68417_A_mallard_Netherlands_12_2000_H7N3_2000-01-01</text></g>
<g id="n155"><text class="lb" x="73.2" y="1749.5">EPI_ISL_3548_A_mallard_Netherlands_12_00_H7N3_2000-01-01</text></g>
<g id="n156"><text class="lb" x="92" y="1760.7">EPI_ISL_122036_A_mallard_Netherlands_13_2001_H2N9_2001-01-01</text></g>
<g id="n157"><text class="lb" x="33.9" y="1771.9">EPI_ISL_25661_A_mallard_France_2525_2001_H7N1_2001-01-01</text></g>
</g>
</svg>
